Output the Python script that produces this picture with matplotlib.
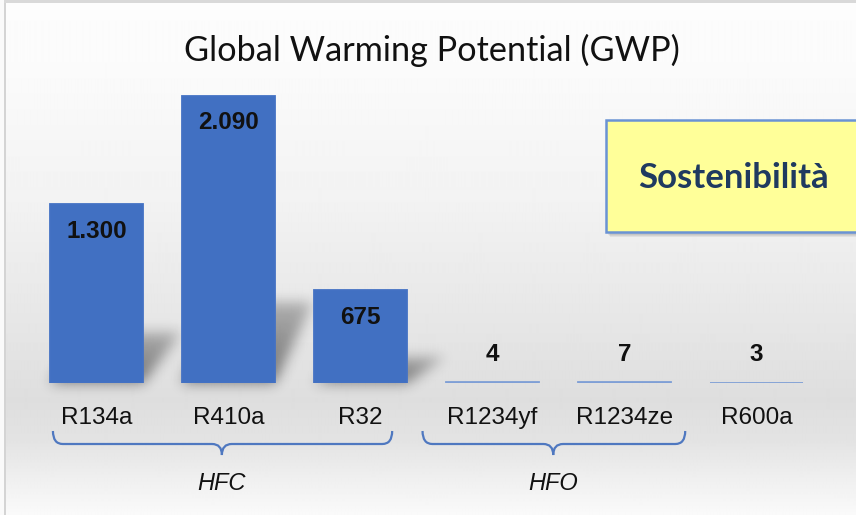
import matplotlib.pyplot as plt
import matplotlib.transforms as mtransforms
from matplotlib.path import Path
from matplotlib.patches import PathPatch, Rectangle
import numpy as np

refrigerants = ['R134a', 'R410a', 'R32', 'R1234yf', 'R1234ze', 'R600a']
gwp = [1300, 2090, 675, 4, 7, 3]
gwp_labels = ['1.300', '2.090', '675', '4', '7', '3']
groups = ['HFC', 'HFO']
# brace extent (in category units) and label centre for each group
group_left = [-0.33, 2.47]
group_right = [2.24, 4.46]
group_mid = [0.95, 3.46]

W, H = 856, 515
fig = plt.figure(figsize=(W / 100, H / 100), dpi=100)

# background: slide-like grey gradient + frame, in pixel coords
bg = fig.add_axes([0, 0, 1, 1])
bg.set_xlim(0, W)
bg.set_ylim(H, 0)
bg.axis('off')
shade = np.interp(np.arange(H), [0, 60, 200, 330, 400, 440, 480, 515],
                  [0.99, 0.985, 0.95, 0.9, 0.87, 0.89, 0.94, 0.98])
bg.imshow(np.tile(shade[:, None], (1, 4)), cmap='gray', vmin=0, vmax=1,
          extent=[0, W, H, 0], aspect='auto', interpolation='bilinear')
bg.add_patch(Rectangle((0, 0), W, 3, color='#d9d9d9', lw=0))
bg.add_patch(Rectangle((0, 0), 4, H, color='#fafafa', lw=0))
bg.add_patch(Rectangle((4, 3), 2, H, color='#d4d4d4', lw=0))

# yellow note box with soft shadow
for k in range(3):
    bg.add_patch(Rectangle((606 + 2 + k, 120 + 3 + k), 260, 112, color='k', alpha=0.06, lw=0))
bg.add_patch(Rectangle((606, 120), 260, 112, facecolor='#ffff99', edgecolor='#6a93d4', lw=1.8))
bg.text(733, 178, 'Sostenibilità', ha='center', va='center', fontsize=25,
        fontweight='bold', color='#1f3a60', family=['Lato', 'DejaVu Sans'])

bg.text(432, 50, 'Global Warming Potential (GWP)', ha='center', va='center',
        fontsize=24.7, color='#111111', family=['Lato', 'DejaVu Sans'])

# main chart
ax = fig.add_axes([30.5 / W, (H - 383) / H, 792 / W, 323 / H])
ax.patch.set_alpha(0)
for s in ax.spines.values():
    s.set_visible(False)
ax.set_xlim(-0.5, 5.5)
ax.set_ylim(0, 323 / 0.1375)
ax.set_xticks([])
ax.set_yticks([])

x = np.arange(len(refrigerants))
bw = 0.705

# soft slanted shadows cast behind the tall bars (blurred mask drawn on bg)
mask = np.zeros((H, W))
for i, v in zip(x, gwp):
    if v < 100:
        continue
    (xl, yb), (xr, yt) = ax.transData.transform([(i - bw / 2, 0), (i + bw / 2, v)])
    base, hgt = H - yb, (yt - yb) * 0.28
    for row in range(int(base - hgt), int(base)):
        t = (base - row) / hgt
        s = 38 * t
        mask[row, int(xl + s):int(xr + s)] = 1 - 0.5 * t
ker = np.exp(-0.5 * (np.arange(-18, 19) / 6.5) ** 2)
ker /= ker.sum()
mask = np.apply_along_axis(lambda c: np.convolve(c, ker, mode='same'), 0, mask)
mask = np.apply_along_axis(lambda c: np.convolve(c, ker, mode='same'), 1, mask)
rgba = np.zeros((H, W, 4))
rgba[..., 3] = mask * 0.5
bg.imshow(rgba, extent=[0, W, H, 0], aspect='auto', interpolation='bilinear')

edge = ['#4472c4' if v > 100 else '#7f9fd6' for v in gwp]
ax.bar(x, gwp, width=bw, color='#4170c2', edgecolor=edge, linewidth=1.3, zorder=3)

for i, v, lab in zip(x, gwp, gwp_labels):
    off = -27 if v > 100 else 28
    ax.annotate(lab, (i, v), xytext=(0, off * 0.72), textcoords='offset points',
                ha='center', va='center', fontsize=17.5, fontweight='bold', color='#111111',
                family='Liberation Sans', zorder=4)

trans = mtransforms.blended_transform_factory(ax.transData, ax.transAxes)
for i, name in zip(x, refrigerants):
    ax.text(i, -35 / 323, name, transform=trans, ha='center', va='center',
            fontsize=17.5, color='#111111', family='Liberation Sans')

# curly braces grouping the categories
y_top, y_mid, y_tip = -48 / 323, -61 / 323, -72 / 323
r = 0.075
for name, x0, x1, xc in zip(groups, group_left, group_right, group_mid):
    verts = [(x0, y_top), (x0, y_mid), (x0 + r, y_mid),
             (xc - r, y_mid), (xc, y_mid), (xc, y_tip),
             (xc, y_mid), (xc + r, y_mid),
             (x1 - r, y_mid), (x1, y_mid), (x1, y_top)]
    codes = [Path.MOVETO, Path.CURVE3, Path.CURVE3,
             Path.LINETO, Path.CURVE3, Path.CURVE3,
             Path.CURVE3, Path.CURVE3,
             Path.LINETO, Path.CURVE3, Path.CURVE3]
    ax.add_patch(PathPatch(Path(verts, codes), transform=trans, fill=False,
                           edgecolor='#4f78c0', lw=1.6, clip_on=False))
    ax.text(xc, -101 / 323, name, transform=trans, ha='center', va='center',
            fontsize=17, style='italic', color='#111111', family='Liberation Sans')

fig.savefig('out.png', dpi=100)
